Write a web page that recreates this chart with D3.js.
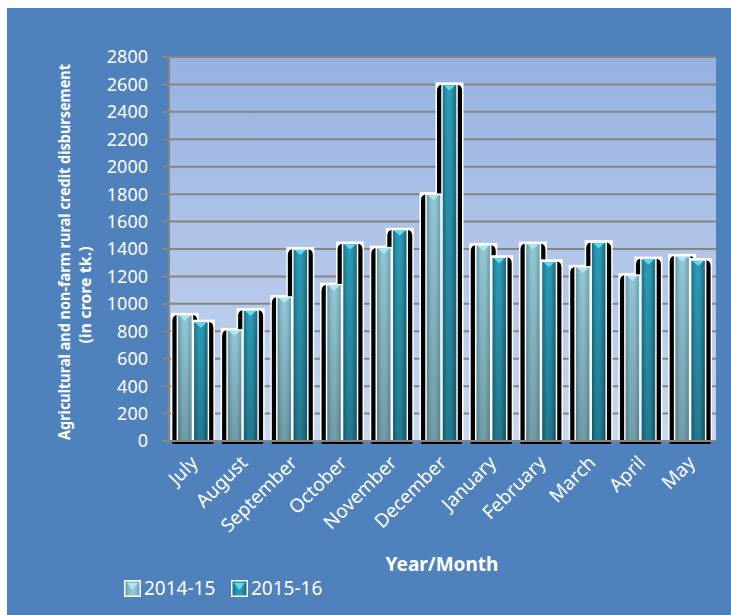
<!DOCTYPE html>
<html>
<head>
<meta charset="utf-8">
<script src="https://cdn.jsdelivr.net/npm/d3@7"></script>
<style>
  body { margin: 0; background: #fff; }
  text { font-family: 'Noto Sans', 'Open Sans', sans-serif; fill: #fff; }
</style>
</head>
<body>
<div id="chart"></div>
<script>
var width = 731,
  height = 615;

// data
var months = ['July', 'August', 'September', 'October', 'November', 'December',
  'January', 'February', 'March', 'April', 'May'];
var series = ['2014-15', '2015-16'];
var fy1415 = [920, 810, 1050, 1140, 1410, 1800, 1430, 1440, 1270, 1210, 1350];
var fy1516 = [870, 955, 1400, 1440, 1540, 2600, 1340, 1310, 1450, 1330, 1320];
var yTicks = [0, 200, 400, 600, 800, 1000, 1200, 1400, 1600, 1800, 2000, 2200, 2400, 2600, 2800];

var plot = { left: 169, right: 716, top: 57, bottom: 441 };

var svg = d3.select('#chart')
  .append('svg')
  .attr('width', width)
  .attr('height', height);

var defs = svg.append('defs');

// plot background gradient
var bg = defs.append('linearGradient')
  .attr('id', 'plotBg')
  .attr('x1', 0).attr('y1', 0).attr('x2', 0).attr('y2', 1);
bg.append('stop').attr('offset', '0%').attr('stop-color', '#96b2e1');
bg.append('stop').attr('offset', '100%').attr('stop-color', '#cad7ef');

// bar fills (horizontal shading like a cylinder)
function barGradient(id, stops) {
  var g = defs.append('linearGradient')
    .attr('id', id)
    .attr('x1', 0).attr('y1', 0).attr('x2', 1).attr('y2', 0);
  stops.forEach(function(s) {
    g.append('stop').attr('offset', s[0]).attr('stop-color', s[1]);
  });
}
barGradient('lightBar', [['0%', '#5f93a3'], ['35%', '#8fc4d2'], ['60%', '#92c7d5'], ['100%', '#6a9fae']]);
barGradient('darkBar', [['0%', '#1b6a80'], ['35%', '#2b9bb6'], ['60%', '#2c9ab4'], ['100%', '#1a6176']]);

var shade = defs.append('linearGradient')
  .attr('id', 'shade')
  .attr('x1', 0).attr('y1', 0).attr('x2', 0).attr('y2', 1);
shade.append('stop').attr('offset', '0%').attr('stop-color', '#000').attr('stop-opacity', 0);
shade.append('stop').attr('offset', '100%').attr('stop-color', '#000').attr('stop-opacity', 0.22);

// outer blue panel
svg.append('rect')
  .attr('x', 7)
  .attr('y', 8)
  .attr('width', width - 7)
  .attr('height', height - 8)
  .attr('fill', '#4f81bd');

svg.append('rect')
  .attr('x', plot.left)
  .attr('y', plot.top)
  .attr('width', plot.right - plot.left)
  .attr('height', plot.bottom - plot.top)
  .attr('fill', 'url(#plotBg)');

var x = d3.scaleBand()
  .domain(months)
  .range([plot.left, plot.right]);

var y = d3.scaleLinear()
  .domain([0, 2800])
  .range([plot.bottom, plot.top]);

// gridlines + tick marks
svg.append('g')
  .selectAll('line')
  .data(yTicks)
  .join('line')
  .attr('x1', plot.left - 7)
  .attr('x2', plot.right)
  .attr('y1', d => y(d))
  .attr('y2', d => y(d))
  .attr('stroke', '#858585')
  .attr('stroke-width', 2);

svg.append('g')
  .selectAll('text')
  .data(yTicks)
  .join('text')
  .attr('x', 148)
  .attr('y', d => y(d))
  .attr('dy', '0.36em')
  .attr('text-anchor', 'end')
  .style('font-size', '18px')
  .text(d => d);

// bars
var fillW = 15;
var rows = months.map(function(m, i) {
  return [
    { month: m, key: 0, value: fy1415[i], fx: x(m) + x.bandwidth() / 2 - 16.5 },
    { month: m, key: 1, value: fy1516[i], fx: x(m) + x.bandwidth() / 2 - 0.5 }
  ];
});
var bars = [].concat.apply([], rows);

function shadowPath(d) {
  var x0 = d.fx - 5, x1 = d.fx + fillW + 5, top = y(d.value), b = plot.bottom + 3, r = 6;
  return 'M' + x0 + ',' + b + 'V' + (top + r) +
    'Q' + x0 + ',' + top + ' ' + (x0 + r) + ',' + top +
    'H' + (x1 - r) + 'Q' + x1 + ',' + top + ' ' + x1 + ',' + (top + r) +
    'V' + b + 'Z';
}

var barG = svg.append('g');

// white frame + black rounded backing for each bar, drawn before any fill
rows.forEach(function(pair) {
  pair.forEach(function(d) {
    barG.append('rect')
      .attr('x', d.fx - 6.5)
      .attr('y', y(d.value) - 2)
      .attr('width', fillW + 13)
      .attr('height', plot.bottom - y(d.value) + 2)
      .attr('fill', '#fff');
    barG.append('path')
      .attr('d', shadowPath(d))
      .attr('fill', '#000');
  });
});

barG.selectAll('rect.fill')
  .data(bars)
  .join('rect')
  .attr('class', 'fill')
  .attr('x', d => d.fx)
  .attr('y', d => y(d.value))
  .attr('width', fillW)
  .attr('height', d => plot.bottom - y(d.value))
  .attr('fill', d => d.key ? 'url(#darkBar)' : 'url(#lightBar)')
  .attr('stroke', '#fff')
  .attr('stroke-width', 1.5);

barG.selectAll('rect.shade')
  .data(bars)
  .join('rect')
  .attr('class', 'shade')
  .attr('x', d => d.fx + 0.75)
  .attr('y', d => y(d.value))
  .attr('width', fillW - 1.5)
  .attr('height', d => plot.bottom - y(d.value))
  .attr('fill', 'url(#shade)');

barG.selectAll('path.tip')
  .data(bars)
  .join('path')
  .attr('class', 'tip')
  .attr('d', function(d) {
    var cx = d.fx + fillW / 2, t = y(d.value) + 1;
    return 'M' + (cx - 5.5) + ',' + t + 'H' + (cx + 5.5) + 'L' + cx + ',' + (t + 5) + 'Z';
  })
  .attr('fill', d => d.key ? '#5fd8f2' : '#aee6f2');

// axes lines
svg.append('line')
  .attr('x1', plot.left)
  .attr('x2', plot.left)
  .attr('y1', plot.top)
  .attr('y2', plot.bottom + 1)
  .attr('stroke', '#858585')
  .attr('stroke-width', 2);

svg.append('line')
  .attr('x1', plot.left - 7)
  .attr('x2', plot.right + 1)
  .attr('y1', plot.bottom)
  .attr('y2', plot.bottom)
  .attr('stroke', '#858585')
  .attr('stroke-width', 2);

// month labels
svg.append('g')
  .selectAll('text')
  .data(months)
  .join('text')
  .attr('transform', d => 'translate(' + (x(d) + x.bandwidth() / 2 + 5) + ',' + 464 + ') rotate(-45)')
  .attr('text-anchor', 'end')
  .style('font-size', '19px')
  .text(d => d);

// axis titles
svg.append('text')
  .attr('x', 442)
  .attr('y', 571)
  .attr('text-anchor', 'middle')
  .style('font-size', '19px')
  .style('font-weight', 'bold')
  .text('Year/Month');

svg.append('text')
  .attr('transform', 'translate(70,252) rotate(-90)')
  .attr('text-anchor', 'middle')
  .attr('textLength', 376)
  .attr('lengthAdjust', 'spacingAndGlyphs')
  .style('font-size', '16px')
  .style('font-weight', 'bold')
  .text('Agricultural and non-farm rural credit disbursement');

svg.append('text')
  .attr('transform', 'translate(91,295) rotate(-90)')
  .attr('text-anchor', 'middle')
  .style('font-size', '16px')
  .style('font-weight', 'bold')
  .text('(in crore tk.)');

// legend
var legendX = [124, 231];
var legend = svg.append('g')
  .selectAll('g')
  .data(series)
  .join('g')
  .attr('transform', (d, i) => 'translate(' + legendX[i] + ',580)');

legend.append('rect')
  .attr('x', 0.75)
  .attr('y', 0.75)
  .attr('width', 15.5)
  .attr('height', 15.5)
  .attr('fill', (d, i) => i ? 'url(#darkBar)' : 'url(#lightBar)')
  .attr('stroke', '#fff')
  .attr('stroke-width', 1.5);

legend.append('path')
  .attr('d', 'M3,3H14L8.5,10Z')
  .attr('fill', (d, i) => i ? '#5fd8f2' : '#aee6f2');

legend.append('text')
  .attr('x', 20)
  .attr('y', 8.5)
  .attr('dy', '0.36em')
  .style('font-size', '19px')
  .text(d => d);
</script>
</body>
</html>
